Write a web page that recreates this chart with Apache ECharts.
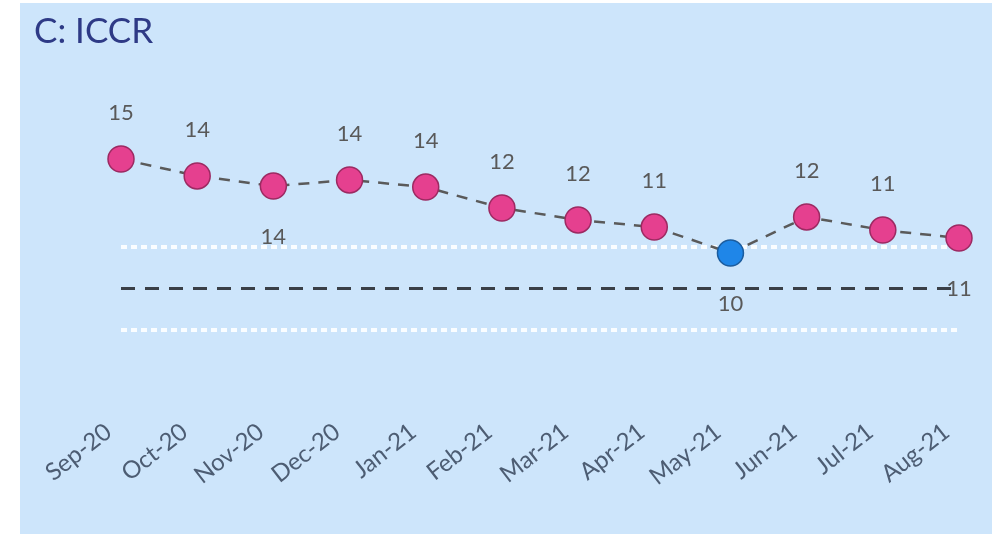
<!DOCTYPE html>
<html>
<head>
<meta charset="utf-8">
<title>C: ICCR</title>
<script src="https://cdn.jsdelivr.net/npm/echarts@6/dist/echarts.min.js"></script>
<style>
    html, body { margin: 0; padding: 0; background: #ffffff; }
    #chart { width: 996px; height: 534px; }
</style>
</head>
<body>
<div id="chart"></div>
<script>
var months = ['Sep-20', 'Oct-20', 'Nov-20', 'Dec-20', 'Jan-21', 'Feb-21',
    'Mar-21', 'Apr-21', 'May-21', 'Jun-21', 'Jul-21', 'Aug-21'];
var iccrValues = [15.3, 14.28, 13.67, 14.04, 13.61, 12.35, 11.63, 11.2, 9.64, 11.81, 11.02, 10.54];
var upperLimit = 10;
var centreLine = 7.5;
var lowerLimit = 5;
var labelBelow = [2, 8, 11];
var highlighted = [8];

(function () {
    'use strict';

    var chart = echarts.init(document.getElementById('chart'), null, { renderer: 'canvas' });

    var pointData = [];
    for (var i = 0; i < iccrValues.length; i++) {
        var item = { value: iccrValues[i] };
        if (labelBelow.indexOf(i) >= 0) {
            item.label = { position: 'bottom', distance: 26 };
        }
        if (highlighted.indexOf(i) >= 0) {
            item.itemStyle = { color: '#1f86e8', borderColor: '#1b5c9e' };
        }
        pointData.push(item);
    }

    chart.setOption({
        animation: false,
        backgroundColor: '#ffffff',
        graphic: [{
            type: 'rect',
            z: -10,
            shape: { x: 20, y: 3, width: 972, height: 531 },
            style: { fill: '#cde5fb' }
        }],
        title: {
            text: 'C: ICCR',
            left: 29,
            top: 9,
            textStyle: {
                fontFamily: 'Lato',
                fontSize: 35,
                fontWeight: 'normal',
                color: '#2e3a86'
            }
        },
        grid: { left: 121, right: 37, top: 81, bottom: 121 },
        xAxis: {
            type: 'category',
            data: months,
            boundaryGap: false,
            axisLine: { show: false },
            axisTick: { show: false },
            splitLine: { show: false },
            axisLabel: {
                rotate: 38,
                margin: 6,
                padding: [0, 16, 0, 0],
                fontFamily: 'Lato',
                fontSize: 24,
                color: '#4d5d73'
            }
        },
        yAxis: {
            type: 'value',
            min: 0,
            max: 20,
            show: false
        },
        series: [{
            name: 'ICCR',
            type: 'line',
            data: pointData,
            symbol: 'circle',
            symbolSize: 26,
            z: 5,
            lineStyle: { color: '#5a5a5a', width: 2.5, type: [11, 9] },
            itemStyle: { color: '#e5408f', borderColor: '#9c2a62', borderWidth: 1.5 },
            label: {
                show: true,
                position: 'top',
                distance: 21,
                fontFamily: 'Lato',
                fontSize: 22,
                color: '#595959',
                formatter: function (p) {
                    return Math.round(p.value);
                }
            },
            markLine: {
                silent: true,
                symbol: 'none',
                label: { show: false },
                z: 1,
                data: [
                    { yAxis: upperLimit, lineStyle: { color: 'rgba(255,255,255,0.9)', width: 4, type: [6, 4] } },
                    { yAxis: centreLine, lineStyle: { color: '#3a3f47', width: 3, type: [14, 10] } },
                    { yAxis: lowerLimit, lineStyle: { color: 'rgba(255,255,255,0.9)', width: 4, type: [6, 4] } }
                ]
            }
        }]
    });
}());
</script>
</body>
</html>
